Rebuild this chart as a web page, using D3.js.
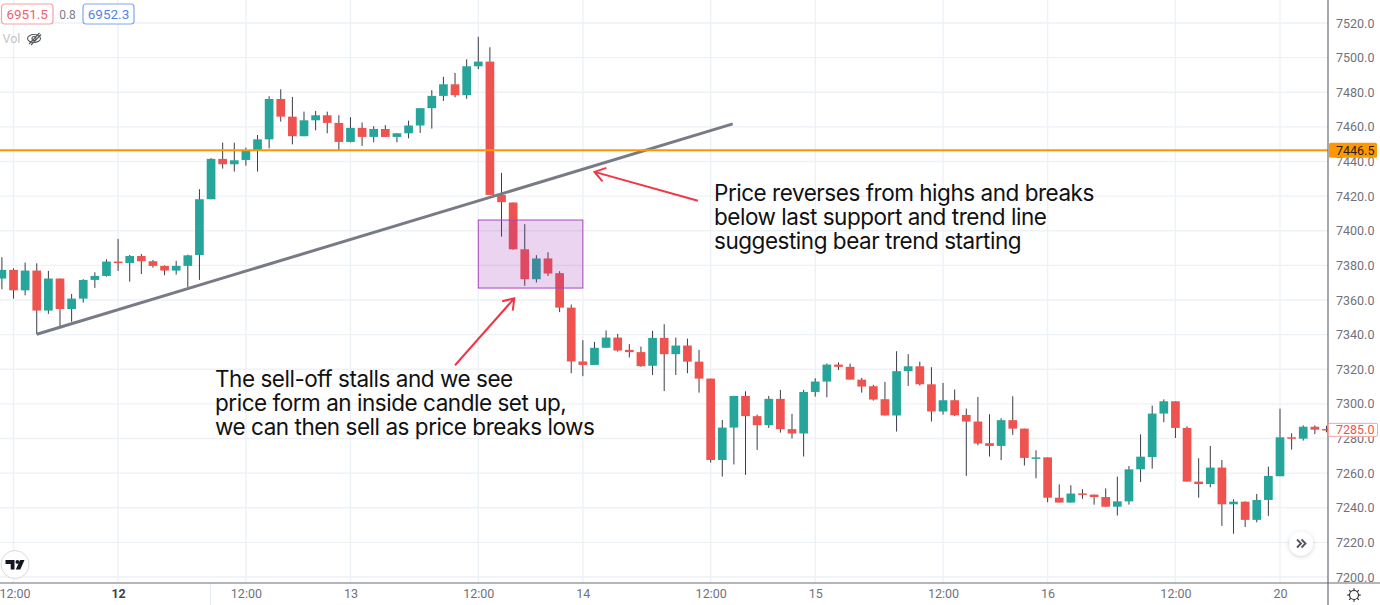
<!DOCTYPE html>
<html>
<head>
<meta charset="utf-8">
<script src="https://cdn.jsdelivr.net/npm/d3@7"></script>
<style>
html, body { margin: 0; padding: 0; background: #fff; overflow: hidden; }
svg { display: block; font-family: Roboto, sans-serif; }
</style>
</head>
<body>
<script>
// candles
var opens = [7372.4,7377.4,7365.6,7377,7353.9,7372.4,7354.8,7360.8,7371.6,7373.9,
	7382.2,7381.4,7385.4,7382.4,7379.7,7377,7379.7,7386,7418.2,7441.5,
	7438.4,7440.9,7446.1,7452.8,7476.1,7465.9,7454.6,7463.8,7466.7,7462.3,
	7451.3,7459.4,7454.2,7458.8,7454.2,7456.3,7460.8,7470.8,7477.9,7484.6,
	7478.3,7495,7497.7,7420.7,7416.3,7389.3,7372,7384,7375.5,7355.6,
	7324.5,7322.5,7332.4,7338.3,7331.2,7329.9,7322,7338.1,7328.7,7333.7,
	7324.4,7314.6,7267.6,7286.3,7304.6,7292.9,7287.7,7302.9,7285.4,7282.9,
	7306.9,7312.9,7322.7,7321.4,7314,7310.2,7302.7,7293.3,7318.9,7321.7,
	7311.3,7295.6,7302.1,7293.6,7289.8,7277.3,7275.7,7290.6,7285.7,7268.6,
	7269.1,7245.8,7243,7248.3,7247.6,7246.2,7240.6,7243.7,7262.2,7269.3,
	7294.4,7301.5,7286.1,7255.1,7253.7,7263.2,7242,7243.5,7233,7244.5,
	7258.2,7280.7,7279.9,7286.8,7285.5];
var closes = [7377.4,7365.6,7377,7353.9,7372.4,7354.8,7360.8,7371.6,7373.9,7382.2,
	7381.4,7385.4,7382.4,7379.7,7377,7379.7,7385.8,7418.2,7441.5,7438.4,
	7440.7,7446.1,7452.8,7476.1,7465.9,7454.6,7463.8,7466.7,7462.3,7451.3,
	7459.4,7454.2,7458.8,7454.2,7456.3,7460.8,7470.8,7477.9,7484.6,7478.3,
	7495,7497.7,7420.7,7416.5,7389.3,7372,7384,7375.3,7355.6,7324.5,
	7322.5,7332.4,7338.3,7330.8,7329.9,7321.8,7338.1,7328.7,7333.7,7324.4,
	7314.6,7267.6,7286.3,7304.6,7292.9,7287.7,7302.9,7285.4,7282.9,7306.9,
	7312.9,7322.7,7321.4,7314,7310,7302.5,7293.3,7318.9,7321.7,7311.3,
	7295.6,7302.1,7293.4,7289.8,7277.1,7275.7,7290.6,7285.7,7268.8,7269.1,
	7245.8,7243,7248.2,7247.6,7246.2,7240.6,7243.7,7262.2,7269.5,7294.4,
	7301.5,7286.1,7255.1,7253.7,7263.2,7242,7243.5,7233,7244.5,7258.4,
	7280.7,7279.9,7286.8,7285.1,7284.7];
var highs = [7384.7,7378.3,7381.6,7381.2,7376.8,7372.4,7363.5,7372,7376,7383.5,
	7395.3,7386,7386.6,7383.1,7380,7382.6,7386.2,7424,7442,7450.9,
	7450.9,7448,7455.3,7477.7,7481.7,7477.3,7468.8,7469.2,7468.8,7466.7,
	7465.6,7462.5,7460.4,7461,7456.3,7463.6,7470.8,7481.2,7488.9,7491.2,
	7499,7512,7506,7433.4,7416.3,7403.8,7385.9,7387.6,7376.6,7357.4,
	7336.8,7335.8,7342.4,7340.4,7334.5,7333.1,7342.2,7346,7338.3,7337.7,
	7331.2,7314.6,7290.7,7304.6,7307.3,7293.8,7304.6,7308.1,7294.2,7308.1,
	7314.8,7323.3,7324,7323.3,7315,7311,7312.7,7330.4,7328.7,7324.4,
	7321.2,7312.1,7308.3,7297.3,7304,7294,7291.7,7304.4,7285.7,7273.2,
	7269.1,7253.5,7253,7250.7,7247.6,7251.2,7258,7264.1,7282.4,7299,
	7302.6,7301.5,7287,7268.6,7275.7,7267.6,7244.9,7243.7,7248,7263.7,
	7297.2,7283,7287.6,7287.6,7287.4];
var lows = [7366.2,7360.8,7362.7,7340.2,7352,7345,7347.5,7358.5,7367,7373.5,
	7376.8,7370.6,7375,7378.7,7374.3,7374.7,7367.4,7371.6,7418.2,7435.9,
	7434.2,7437.6,7434.2,7447.6,7463,7449.9,7454.6,7458,7456.3,7446.5,
	7451,7449,7451.1,7454.2,7451.1,7453.4,7456.5,7459,7475,7477.1,
	7476.2,7493.3,7420.7,7396.6,7389,7368.2,7370.1,7373.9,7353,7317.7,
	7316,7322.5,7332.4,7330.2,7326.8,7321.4,7316.6,7307.4,7316.7,7317.7,
	7306.5,7266.1,7258,7265,7259,7273.4,7286.1,7283.4,7280,7269.6,
	7304.2,7303.8,7319.6,7314,7306.5,7301.9,7293.3,7284,7310.4,7310.6,
	7289.8,7293.8,7293,7258.4,7276.1,7269.6,7267.5,7282.1,7264.4,7257,
	7243.2,7243,7243,7245.1,7241.8,7240.6,7235.5,7241.8,7254.9,7262.6,
	7289.4,7280.3,7255.1,7245.8,7251.8,7229.5,7225,7228.9,7231.6,7235.3,
	7258.2,7273.6,7278.8,7282.6,7283.6];

// axes
var priceTicks = [7200,7220,7240,7260,7280,7300,7320,7340,7360,7380,7400,7420,7440,7460,7480,7500,7520];
var timeTicks = [1,10,21,30,41,50,61,70,81,90,101,110];
var timeLabels = ["12:00","12","12:00","13","12:00","14","12:00","15","12:00","16","12:00","20"];
var boldTimeLabels = ["12"];

// drawings on the chart
var supportLevel = 7446.5;
var lastPrice = 7285.0;
var trendIdx = [3, 62.9];
var trendPrice = [7340.2, 7461.7];
var boxIdx = [41, 50];
var boxPrice = [7366.9, 7406.2];
var arrowIdx = [[59.9, 51], [39, 44.1]];
var arrowPrice = [[7417.3, 7434], [7322.3, 7361]];
var noteOne = ["Price reverses from highs and breaks","below last support and trend line","suggesting bear trend starting"];
var noteTwo = ["The sell-off stalls and we see","price form an inside candle set up,","we can then sell as price breaks lows"];

var width = 1380
var height = 605
var plotRight = 1328
var plotBottom = 583

var x = d3.scaleLinear().domain([0,110]).range([1.9,1280]);
var y = d3.scaleLinear().domain([7200,7520]).range([577,23]);
var barWidth = (x(1)-x(0))*0.75;

var candles = d3.range(opens.length).map(function(i){
	return {i:i,o:opens[i],c:closes[i],h:highs[i],l:lows[i]};
});

var svg = d3.select("body")
	.append("svg")
	.attr("width", width)
	.attr("height", height);

svg.append("clipPath").attr("id","plot")
	.append("rect").attr("width",plotRight).attr("height",plotBottom);

var shadow = svg.append("filter").attr("id","soft")
	.attr("x","-50%").attr("y","-50%").attr("width","200%").attr("height","200%");
shadow.append("feDropShadow").attr("dx",0).attr("dy",1).attr("stdDeviation",2)
	.attr("flood-color","#000").attr("flood-opacity",0.2);

var plot = svg.append("g").attr("clip-path","url(#plot)");

// grid
plot.selectAll(".hgrid")
	.data(priceTicks)
	.enter()
	.append("line")
	.attr("x1",0)
	.attr("x2",plotRight)
	.attr("y1",function(d){ return y(d); })
	.attr("y2",function(d){ return y(d); })
	.attr("stroke","#edf2f7")
	.attr("stroke-width",1.4);

plot.selectAll(".vgrid")
	.data(timeTicks)
	.enter()
	.append("line")
	.attr("x1",function(d){ return x(d); })
	.attr("x2",function(d){ return x(d); })
	.attr("y1",0)
	.attr("y2",plotBottom)
	.attr("stroke","#edf2f7")
	.attr("stroke-width",1.4);

// candles
plot.selectAll(".wick")
	.data(candles)
	.enter()
	.append("line")
	.attr("x1",function(d){ return x(d.i); })
	.attr("x2",function(d){ return x(d.i); })
	.attr("y1",function(d){ return y(d.h); })
	.attr("y2",function(d){ return y(d.l); })
	.attr("stroke","#3a3d45")
	.attr("stroke-width",1);

plot.selectAll(".body")
	.data(candles)
	.enter()
	.append("rect")
	.attr("x",function(d){ return x(d.i)-barWidth/2; })
	.attr("width",barWidth)
	.attr("y",function(d){ return y(Math.max(d.o,d.c)); })
	.attr("height",function(d){ return Math.max(1.5,Math.abs(y(d.o)-y(d.c))); })
	.attr("fill",function(d){ return d.c<d.o ? "#ef5350" : "#26a69a"; });

// inside candle box
plot.append("rect")
	.attr("x",x(boxIdx[0]))
	.attr("y",y(boxPrice[1]))
	.attr("width",x(boxIdx[1])-x(boxIdx[0]))
	.attr("height",y(boxPrice[0])-y(boxPrice[1]))
	.attr("fill","#9c27b0")
	.attr("fill-opacity",0.2)
	.attr("stroke","#ab47bc")
	.attr("stroke-width",1);

// trend line and support level
plot.append("line")
	.attr("x1",x(trendIdx[0]))
	.attr("y1",y(trendPrice[0]))
	.attr("x2",x(trendIdx[1]))
	.attr("y2",y(trendPrice[1]))
	.attr("stroke","#787b86")
	.attr("stroke-width",3);

plot.append("line")
	.attr("x1",0)
	.attr("x2",plotRight)
	.attr("y1",y(supportLevel))
	.attr("y2",y(supportLevel))
	.attr("stroke","#ff9800")
	.attr("stroke-width",2);

// arrows
arrowIdx.forEach(function(a,k){
	var x0 = x(a[0]), y0 = y(arrowPrice[k][0]), x1 = x(a[1]), y1 = y(arrowPrice[k][1]);
	var ang = Math.atan2(y0-y1,x0-x1), len = 12.5, wing = 0.6;
	var path = d3.path();
	path.moveTo(x0,y0);
	path.lineTo(x1,y1);
	path.moveTo(x1+len*Math.cos(ang+wing),y1+len*Math.sin(ang+wing));
	path.lineTo(x1,y1);
	path.lineTo(x1+len*Math.cos(ang-wing),y1+len*Math.sin(ang-wing));
	plot.append("path")
		.attr("d",path.toString())
		.attr("fill","none")
		.attr("stroke","#f23645")
		.attr("stroke-width",2);
});

// notes
function note(lines,left,top){
	svg.selectAll(null)
		.data(lines)
		.enter()
		.append("text")
		.attr("x",left)
		.attr("y",function(d,i){ return top+i*24; })
		.attr("font-family","Inter, Roboto, sans-serif")
		.attr("font-size",22.5)
		.attr("letter-spacing",-0.47)
		.attr("fill","#111")
		.text(function(d){ return d; });
}
note(noteOne,714,201);
note(noteTwo,215,387);

// price axis
var yAxis = d3.axisRight(y)
	.tickValues(priceTicks)
	.tickSize(0)
	.tickPadding(8)
	.tickFormat(d3.format(".1f"));
var yg = svg.append("g").attr("transform","translate("+plotRight+",0)").call(yAxis);
yg.select(".domain").remove();
yg.selectAll("text").attr("font-family","Roboto, sans-serif").attr("font-size",12.5).attr("fill","#6f727c");

// time axis
var xAxis = d3.axisBottom(x)
	.tickValues(timeTicks)
	.tickSize(0)
	.tickPadding(6)
	.tickFormat(function(d,i){ return timeLabels[i]; });
var xg = svg.append("g").attr("transform","translate(0,"+plotBottom+")").call(xAxis);
xg.select(".domain").remove();
xg.selectAll("text")
	.attr("font-family","Roboto, sans-serif")
	.attr("font-size",12.5)
	.attr("dx",function(d,i){ return i==0 ? 1 : 0; })
	.attr("fill",function(d,i){ return boldTimeLabels.indexOf(timeLabels[i])>=0 ? "#3d404a" : "#6f727c"; })
	.attr("font-weight",function(d,i){ return boldTimeLabels.indexOf(timeLabels[i])>=0 ? "700" : "400"; });

svg.append("line").attr("x1",210.5).attr("x2",210.5).attr("y1",plotBottom).attr("y2",height)
	.attr("stroke","#e6edf5");
svg.append("line").attr("x1",0).attr("x2",width).attr("y1",plotBottom).attr("y2",plotBottom)
	.attr("stroke","#6a6d78").attr("stroke-width",1.2);
svg.append("line").attr("x1",plotRight).attr("x2",plotRight).attr("y1",0).attr("y2",height)
	.attr("stroke","#6a6d78").attr("stroke-width",1.2);

// price labels on the axis
svg.append("rect").attr("x",plotRight+1).attr("y",y(supportLevel)-7.5).attr("width",48).attr("height",15)
	.attr("rx",1.5).attr("fill","#ff9800");
svg.append("text").attr("x",1336).attr("y",y(supportLevel)+4.5)
	.attr("font-size",12.5).attr("fill","#222").text(d3.format(".1f")(supportLevel));
svg.append("rect").attr("x",plotRight+.5).attr("y",y(lastPrice)-6.5).attr("width",49).attr("height",13)
	.attr("rx",1.5).attr("fill","#fff").attr("stroke","#f7a5a3");
svg.append("text").attr("x",1336).attr("y",y(lastPrice)+4.5)
	.attr("font-size",12.5).attr("fill","#ef5350").text(d3.format(".1f")(lastPrice));

// sell / buy boxes top left
var quoteLabels = ["6951.5","6952.3"];
var spreadLabel = "0.8";
svg.append("rect").attr("x",1.5).attr("y",4).attr("width",51.5).attr("height",20).attr("rx",3)
	.attr("fill","#fff").attr("stroke","#f9a0a6").attr("stroke-width",1.2);
svg.append("text").attr("x",27.2).attr("y",19).attr("text-anchor","middle")
	.attr("font-size",13.5).attr("fill","#f0616d").text(quoteLabels[0]);
svg.append("text").attr("x",67.5).attr("y",19).attr("text-anchor","middle")
	.attr("font-size",12).attr("fill","#7a7d87").text(spreadLabel);
svg.append("rect").attr("x",83).attr("y",4).attr("width",51).attr("height",20).attr("rx",3)
	.attr("fill","#fff").attr("stroke","#7ea6f8").attr("stroke-width",1.2);
svg.append("text").attr("x",108.5).attr("y",19).attr("text-anchor","middle")
	.attr("font-size",13.5).attr("fill","#4f83ee").text(quoteLabels[1]);

// volume hidden marker
svg.append("text").attr("x",2.5).attr("y",43).attr("font-size",12.5).attr("fill","#c3c5cb").text("Vol");
var eye = svg.append("g").attr("fill","none").attr("stroke","#55585f").attr("stroke-width",1.1);
eye.append("ellipse").attr("cx",34).attr("cy",38.5).attr("rx",6.5).attr("ry",4);
eye.append("circle").attr("cx",34).attr("cy",38.5).attr("r",2);
eye.append("line").attr("x1",29).attr("y1",44).attr("x2",39.5).attr("y2",33);
eye.append("line").attr("x1",31).attr("y1",45).attr("x2",41).attr("y2",34.5);

// logo
svg.append("circle").attr("cx",15).attr("cy",564.5).attr("r",14)
	.attr("fill","#fff").attr("stroke","#d9dadd").attr("stroke-width",1);
svg.append("path").attr("d","M5.5 560h9v9.5h-3.8v-5.5h-5.2z M20 560h4.5l-4.2 9.5h-4.5z").attr("fill","#131722");
svg.append("circle").attr("cx",17.4).attr("cy",561.9).attr("r",1.9).attr("fill","#131722");

// scroll button
svg.append("circle").attr("cx",1301).attr("cy",543.5).attr("r",12)
	.attr("fill","#fff").attr("filter","url(#soft)");
svg.append("path").attr("d","M1297 539.5l4 4-4 4 M1301.5 539.5l4 4-4 4")
	.attr("fill","none").attr("stroke","#50535e").attr("stroke-width",1.8);

// settings gear
var gear = svg.append("g").attr("transform","translate(1354,595)")
	.attr("fill","none").attr("stroke","#30333a").attr("stroke-width",1.2);
gear.append("circle").attr("r",4.5);
gear.selectAll("line")
	.data(d3.range(8))
	.enter()
	.append("line")
	.attr("y1",-4.5)
	.attr("y2",-6.8)
	.attr("transform",function(d){ return "rotate("+d*45+")"; });
</script>
</body>
</html>
